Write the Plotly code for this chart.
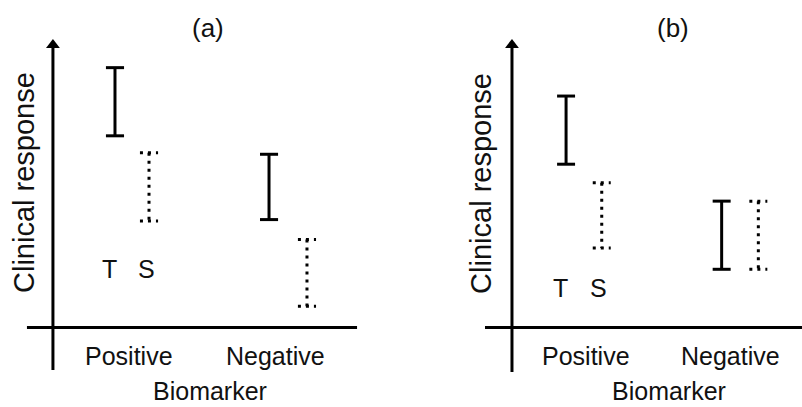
import plotly.graph_objects as go

# ---- data (arbitrary clinical-response units) ----
panels = ["(a)", "(b)"]
groups = ["Positive", "Negative"]
treat_labels = ["T", "S"]
axis_title_x = "Biomarker"
axis_title_y = "Clinical response"

a_T_low = [6.75, 3.8]
a_T_high = [9.15, 6.1]
a_S_low = [3.75, 0.75]
a_S_high = [6.15, 3.1]

b_T_low = [5.75, 2.05]
b_T_high = [8.15, 4.45]
b_S_low = [2.8, 2.05]
b_S_high = [5.1, 4.45]

# ---- layout constants ----
group_pos = [1, 2]
a_T_x = [0.904, 1.959]
a_S_x = [1.137, 2.219]
b_T_x = [0.866, 1.939]
b_S_x = [1.112, 2.192]
cap = 0.062
FONT = "Liberation Sans, Arial, sans-serif"
INK = "#111111"

fig = go.Figure()


def ibars(xs, lows, highs):
    X, Y = [], []
    for x, lo, hi in zip(xs, lows, highs):
        X += [x - cap, x + cap, None, x, x, None, x - cap, x + cap, None]
        Y += [hi, hi, None, hi, lo, None, lo, lo, None]
    return X, Y


panel_specs = [
    dict(xa="x", ya="y", T_x=a_T_x, S_x=a_S_x, T=(a_T_low, a_T_high), S=(a_S_low, a_S_high),
         yax_x=0.479, xax=(0.301, 2.562), ybot=-1.50, title_x=1.541, ylab_x=0.281,
         xlab_x=1.555, ts_x=(0.863, 1.123), ts_y=2.06),
    dict(xa="x2", ya="y2", T_x=b_T_x, S_x=b_S_x, T=(b_T_low, b_T_high), S=(b_S_low, b_S_high),
         yax_x=0.493, xax=(0.307, 2.493), ybot=-1.57, title_x=1.603, ylab_x=0.279,
         xlab_x=1.576, ts_x=(0.831, 1.093), ts_y=1.39),
]

annotations = []
for p, name in zip(panel_specs, panels):
    # axes drawn as lines
    fig.add_trace(go.Scatter(x=[p["yax_x"], p["yax_x"]], y=[p["ybot"], 9.9], mode="lines",
                             line=dict(color="black", width=3), xaxis=p["xa"], yaxis=p["ya"],
                             showlegend=False, hoverinfo="skip"))
    fig.add_trace(go.Scatter(x=[p["yax_x"]], y=[9.95], mode="markers",
                             marker=dict(symbol="triangle-up", size=12, color="black"),
                             xaxis=p["xa"], yaxis=p["ya"], showlegend=False, hoverinfo="skip"))
    fig.add_trace(go.Scatter(x=list(p["xax"]), y=[0, 0], mode="lines",
                             line=dict(color="black", width=3), xaxis=p["xa"], yaxis=p["ya"],
                             showlegend=False, hoverinfo="skip"))
    # T bars (solid)
    X, Y = ibars(p["T_x"], *p["T"])
    fig.add_trace(go.Scatter(x=X, y=Y, mode="lines", line=dict(color="black", width=3),
                             xaxis=p["xa"], yaxis=p["ya"], showlegend=False, name="T"))
    # S bars (dotted)
    X, Y = ibars(p["S_x"], *p["S"])
    fig.add_trace(go.Scatter(x=X, y=Y, mode="lines",
                             line=dict(color="black", width=3, dash="3px,5px"),
                             xaxis=p["xa"], yaxis=p["ya"], showlegend=False, name="S"))

    txt = dict(xref=p["xa"], yref=p["ya"], showarrow=False, xanchor="center", yanchor="middle")
    annotations.append(dict(x=p["title_x"], y=10.55, text=name,
                            font=dict(family=FONT, size=26, color=INK), **txt))
    annotations.append(dict(x=p["ylab_x"], y=5.09, text=axis_title_y, textangle=-90,
                            font=dict(family=FONT, size=29, color=INK), **txt))
    annotations.append(dict(x=p["xlab_x"], y=-2.24, text=axis_title_x,
                            font=dict(family=FONT, size=25, color=INK), **txt))
    for gx, g in zip(group_pos, groups):
        annotations.append(dict(x=gx, y=-1.0, text=g,
                                font=dict(family=FONT, size=25, color=INK), **txt))
    for tx, t in zip(p["ts_x"], treat_labels):
        annotations.append(dict(x=tx, y=p["ts_y"], text=t,
                                font=dict(family=FONT, size=25, color=INK), **txt))

yr = [-2.799, 11.532]
hidden = dict(visible=False, showgrid=False, zeroline=False, fixedrange=True)
fig.update_layout(
    width=802, height=407, autosize=False,
    margin=dict(l=0, r=0, t=0, b=0),
    paper_bgcolor="white", plot_bgcolor="white",
    xaxis=dict(domain=[0, 0.5], range=[0.1164, 2.8630], **hidden),
    xaxis2=dict(domain=[0.5, 1], range=[-0.2724, 2.4931], **hidden),
    yaxis=dict(domain=[0, 1], range=yr, anchor="x", **hidden),
    yaxis2=dict(domain=[0, 1], range=yr, anchor="x2", **hidden),
    annotations=annotations,
    showlegend=False,
)

fig.write_html("out.html")
